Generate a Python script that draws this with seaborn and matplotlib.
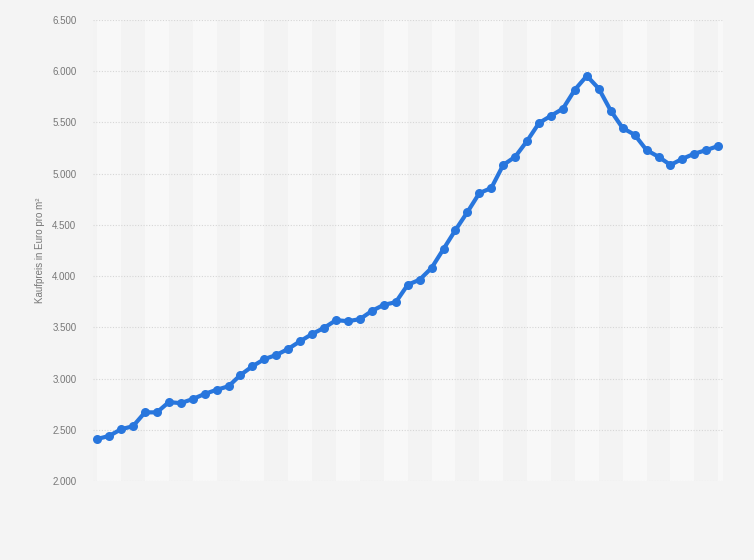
import pandas as pd
import numpy as np
import matplotlib
matplotlib.use("Agg")
import matplotlib.pyplot as plt
from matplotlib.ticker import FuncFormatter
import seaborn as sns

# Kaufpreis in Euro pro m², quarterly values
quarter_idx = list(range(53))
kaufpreis = [
    2410, 2440, 2505, 2535, 2670, 2670, 2770, 2760, 2800, 2850,
    2890, 2925, 3035, 3120, 3190, 3230, 3290, 3365, 3435, 3495,
    3570, 3560, 3580, 3660, 3720, 3745, 3915, 3965, 4080, 4265,
    4450, 4625, 4810, 4860, 5085, 5165, 5320, 5495, 5565, 5635,
    5820, 5955, 5830, 5615, 5445, 5380, 5230, 5165, 5085, 5145,
    5195, 5230, 5270,
]
y_ticks = [2000, 2500, 3000, 3500, 4000, 4500, 5000, 5500, 6000, 6500]
y_label = "Kaufpreis in Euro pro m²"

df = pd.DataFrame({"quartal": quarter_idx, "preis": kaufpreis})

sns.set_style("white")
plt.rcParams['font.family'] = ['Liberation Sans', 'DejaVu Sans']

fig = plt.figure(figsize=(7.54, 5.6), dpi=100, facecolor="#f4f4f4")
ax = fig.add_axes([93 / 754, 1 - 481 / 560, (723 - 93) / 754, (481 - 20) / 560])
ax.set_facecolor("#f3f3f3")

# alternating light stripes, one per year (4 quarters)
for start in range(0, len(quarter_idx), 4):
    ax.axvspan(start, start + 2, color="#f8f8f8", lw=0, zorder=0)

for yv in y_ticks:
    ax.axhline(yv, color="#d6d6d6", lw=0.8, ls=(0, (1, 1.5)), zorder=1)

sns.lineplot(data=df, x="quartal", y="preis", ax=ax, color="#2876dd",
             lw=3, marker="o", markersize=6.5, markeredgewidth=0, zorder=3)

ax.set_xlim(-0.35, 52.4)
ax.set_ylim(2000, 6500)
ax.set_yticks(y_ticks)
ax.yaxis.set_major_formatter(FuncFormatter(lambda v, p: f"{int(v):,}".replace(",", ".")))
ax.set_xticks([])
ax.tick_params(axis="y", length=0, pad=12, labelsize=7, labelcolor="#777777")
ax.set_xlabel("")
ax.set_ylabel(y_label, fontsize=7, color="#777777", labelpad=5)
for s in ax.spines.values():
    s.set_visible(False)

fig.savefig("out.png", dpi=100, facecolor=fig.get_facecolor())
plt.close(fig)
